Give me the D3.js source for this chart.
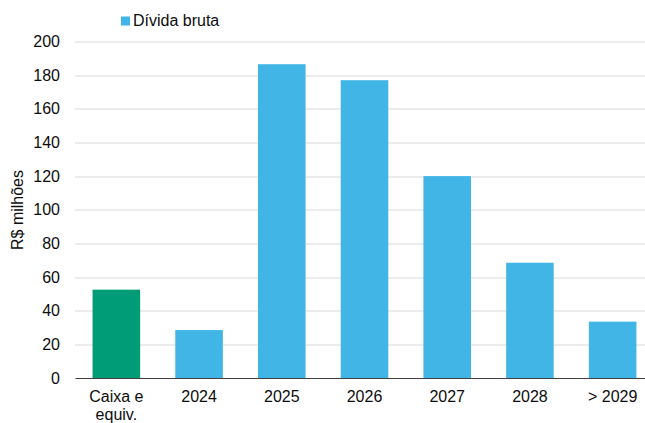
<!DOCTYPE html>
<html>
<head>
<meta charset="utf-8">
<script src="https://cdn.jsdelivr.net/npm/d3@7"></script>
<style>
  body { margin: 0; background: #fff; }
  text { font-family: "Liberation Sans", Arial, sans-serif; fill: #0d0d0d; }
</style>
</head>
<body>
<div id="chart"></div>
<script>
var categories = ["Caixa e equiv.", "2024", "2025", "2026", "2027", "2028", "> 2029"];
var values = [52.5, 28.5, 186.5, 177, 120, 68.5, 33.5];
var barColors = ["#009B77", "#41B6E6", "#41B6E6", "#41B6E6", "#41B6E6", "#41B6E6", "#41B6E6"];
var yTicks = [0, 20, 40, 60, 80, 100, 120, 140, 160, 180, 200];
var legendLabel = "Dívida bruta";

var svgWidth = 645;
var svgHeight = 423;

var margin = { top: 41.5, right: -9, bottom: 45, left: 75 };
var width = svgWidth - margin.left - margin.right;
var height = svgHeight - margin.top - margin.bottom;

var svg = d3.select("#chart")
    .append("svg")
    .attr("width", svgWidth)
    .attr("height", svgHeight);

var chartGroup = svg.append("g")
    .attr("transform", `translate(${margin.left}, ${margin.top})`);

var xScale = d3.scaleBand()
    .domain(categories)
    .range([0, width])
    .paddingInner(0.425)
    .paddingOuter(0.2125);

var yScale = d3.scaleLinear()
    .domain([0, 200])
    .range([height, 0]);

// gridlines
chartGroup.append("g")
    .selectAll("line")
    .data(yTicks.filter(d => d > 0))
    .enter()
    .append("line")
    .attr("x1", 0)
    .attr("x2", width)
    .attr("y1", d => Math.round(yScale(d)) + 0.5)
    .attr("y2", d => Math.round(yScale(d)) + 0.5)
    .attr("stroke", "#d9d9d9")
    .attr("stroke-width", 1.2);

// y axis labels
var leftAxis = d3.axisLeft(yScale).tickValues(yTicks).tickSize(0).tickPadding(15);
var yAxisG = chartGroup.append("g").call(leftAxis);
yAxisG.select(".domain").remove();
yAxisG.selectAll("text")
    .attr("font-size", 16)
    .attr("font-family", "Liberation Sans, Arial, sans-serif")
    .attr("fill", "#0d0d0d");

// bars
chartGroup.selectAll("rect.bar")
    .data(values)
    .enter()
    .append("rect")
    .attr("class", "bar")
    .attr("x", (d, i) => xScale(categories[i]))
    .attr("width", xScale.bandwidth())
    .attr("y", d => yScale(d))
    .attr("height", d => height - yScale(d))
    .attr("fill", (d, i) => barColors[i]);

// x axis
var bottomAxis = d3.axisBottom(xScale).tickSize(0).tickPadding(12);
var xAxisG = chartGroup.append("g")
    .attr("transform", `translate(0, ${height})`)
    .call(bottomAxis);
xAxisG.select(".domain").attr("stroke", "#404040").attr("stroke-width", 1.2);
xAxisG.selectAll(".tick text").remove();
xAxisG.selectAll(".tick")
    .append("text")
    .attr("text-anchor", "middle")
    .attr("font-size", 16)
    .attr("font-family", "Liberation Sans, Arial, sans-serif")
    .attr("fill", "#0d0d0d")
    .each(function (d) {
        var parts = d === "Caixa e equiv." ? ["Caixa e", "equiv."] : [d];
        var t = d3.select(this);
        parts.forEach(function (p, i) {
            t.append("tspan").attr("x", 0).attr("y", 24 + i * 18).text(p);
        });
    });

// y axis title
svg.append("text")
    .attr("transform", "rotate(-90)")
    .attr("x", -210)
    .attr("y", 23)
    .attr("text-anchor", "middle")
    .attr("font-size", 16)
    .text("R$ milhões");

// legend
var legend = svg.append("g").attr("transform", "translate(121, 16.5)");
legend.append("rect")
    .attr("width", 9)
    .attr("height", 9)
    .attr("fill", "#41B6E6");
legend.append("text")
    .attr("x", 12)
    .attr("y", 9)
    .attr("font-size", 16)
    .text(legendLabel);
</script>
</body>
</html>
